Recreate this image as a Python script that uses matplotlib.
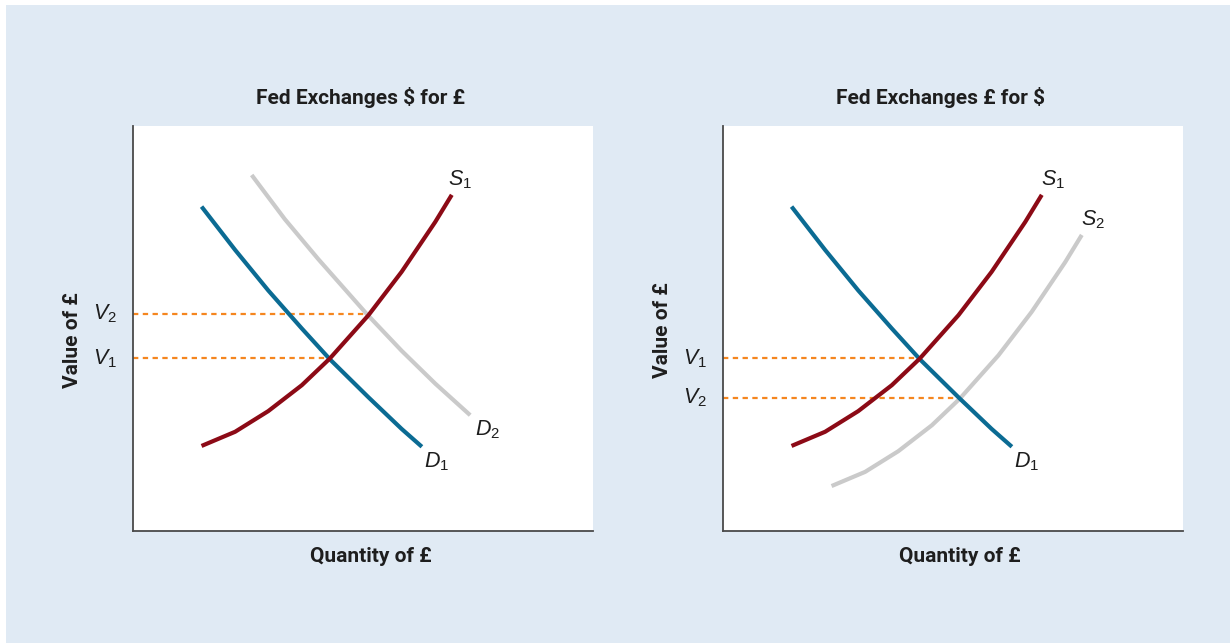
import matplotlib
matplotlib.use("Agg")
import matplotlib.pyplot as plt
import matplotlib.transforms as mtransforms
from matplotlib.patches import Rectangle

plt.rcParams['mathtext.fontset'] = 'custom'
plt.rcParams['mathtext.it'] = 'Liberation Sans:italic'
plt.rcParams['mathtext.rm'] = 'Liberation Sans'

# curve points (quantity, value), axes run 0..10
d1_q = [1.49, 2.22, 2.94, 3.67, 4.28, 5.12, 5.84, 6.28]
d1_v = [8.01, 6.94, 5.94, 5.00, 4.24, 3.30, 2.52, 2.08]

d2_q = [2.58, 3.30, 4.03, 5.08, 5.84, 6.57, 7.33]
d2_v = [8.79, 7.70, 6.71, 5.36, 4.45, 3.64, 2.86]

s1_q = [1.49, 2.22, 2.94, 3.67, 4.28, 5.12, 5.84, 6.57, 6.93]
s1_v = [2.10, 2.45, 2.96, 3.60, 4.26, 5.33, 6.40, 7.63, 8.30]

s2_q = [2.36, 3.09, 3.81, 4.54, 5.15, 5.99, 6.71, 7.44, 7.80]
s2_v = [1.11, 1.46, 1.97, 2.61, 3.27, 4.34, 5.41, 6.64, 7.31]

# equilibrium values (value, quantity where the dashed line stops)
left_eq = {'V_1': (4.26, 4.28), 'V_2': (5.36, 5.08)}
right_eq = {'V_1': (4.26, 4.28), 'V_2': (3.28, 5.13)}

titles = ['Fed Exchanges $ for £', 'Fed Exchanges £ for $']

BG = '#e0eaf4'
BLUE = '#0b6b93'
RED = '#8c0a16'
GRAY = '#cacaca'
ORANGE = '#f5861f'
BOLD = ['Roboto', 'DejaVu Sans']
TXT = '#1e1e1e'

fig = plt.figure(figsize=(12.3, 6.43), dpi=100)
fig.patch.set_facecolor('white')
fig.patches.append(Rectangle((6 / 1230, 0), 1, 638 / 643, transform=fig.transFigure,
                             facecolor=BG, edgecolor='none', zorder=-5))

ax1 = fig.add_axes([133 / 1230, 112 / 643, 460 / 1230, 405 / 643])
ax2 = fig.add_axes([723 / 1230, 112 / 643, 460 / 1230, 405 / 643])

for ax in (ax1, ax2):
    ax.set_xlim(0, 10)
    ax.set_ylim(0, 10)
    ax.set_xticks([])
    ax.set_yticks([])
    ax.set_facecolor('white')
    for side in ('top', 'right'):
        ax.spines[side].set_visible(False)
    for side in ('left', 'bottom'):
        ax.spines[side].set_color('#4a4a4a')
        ax.spines[side].set_linewidth(1.3)


def dashed(ax, eq):
    trans = mtransforms.blended_transform_factory(ax.transAxes, ax.transData)
    for name, (v, q) in eq.items():
        ax.plot([0, q], [v, v], color=ORANGE, lw=1.6, ls=(0, (2.4, 2.0)), zorder=1)
        ax.text(-0.06, v, '$' + name + '$', transform=trans, ha='center', va='center',
                fontsize=15.5, color=TXT)


def curve(ax, q, v, color, z):
    ax.plot(q, v, color=color, lw=3, solid_capstyle='butt', solid_joinstyle='round', zorder=z)


# left panel
curve(ax1, d2_q, d2_v, GRAY, 2)
curve(ax1, d1_q, d1_v, BLUE, 3)
curve(ax1, s1_q, s1_v, RED, 4)
dashed(ax1, left_eq)
ax1.text(7.11, 8.67, '$S_1$', ha='center', va='center', fontsize=15.5, color=TXT)
ax1.text(7.70, 2.49, '$D_2$', ha='center', va='center', fontsize=15.5, color=TXT)
ax1.text(6.61, 1.70, '$D_1$', ha='center', va='center', fontsize=15.5, color=TXT)

# right panel
curve(ax2, s2_q, s2_v, GRAY, 2)
curve(ax2, d1_q, d1_v, BLUE, 3)
curve(ax2, s1_q, s1_v, RED, 4)
dashed(ax2, right_eq)
ax2.text(7.17, 8.67, '$S_1$', ha='center', va='center', fontsize=15.5, color=TXT)
ax2.text(8.04, 7.68, '$S_2$', ha='center', va='center', fontsize=15.5, color=TXT)
ax2.text(6.61, 1.70, '$D_1$', ha='center', va='center', fontsize=15.5, color=TXT)

# titles and axis labels
label_kw = dict(ha='center', va='center', fontsize=15, fontweight='bold', family=BOLD, color=TXT)
fig.text(360 / 1230, 1 - 97 / 643, titles[0], **label_kw)
fig.text(941 / 1230, 1 - 97 / 643, titles[1], **label_kw)
fig.text(371 / 1230, 1 - 557 / 643, 'Quantity of £', **label_kw)
fig.text(960 / 1230, 1 - 557 / 643, 'Quantity of £', **label_kw)
fig.text(72 / 1230, 1 - 340 / 643, 'Value of £', rotation=90, **label_kw)
fig.text(662 / 1230, 1 - 330 / 643, 'Value of £', rotation=90, **label_kw)

fig.savefig('out.png', dpi=100)
